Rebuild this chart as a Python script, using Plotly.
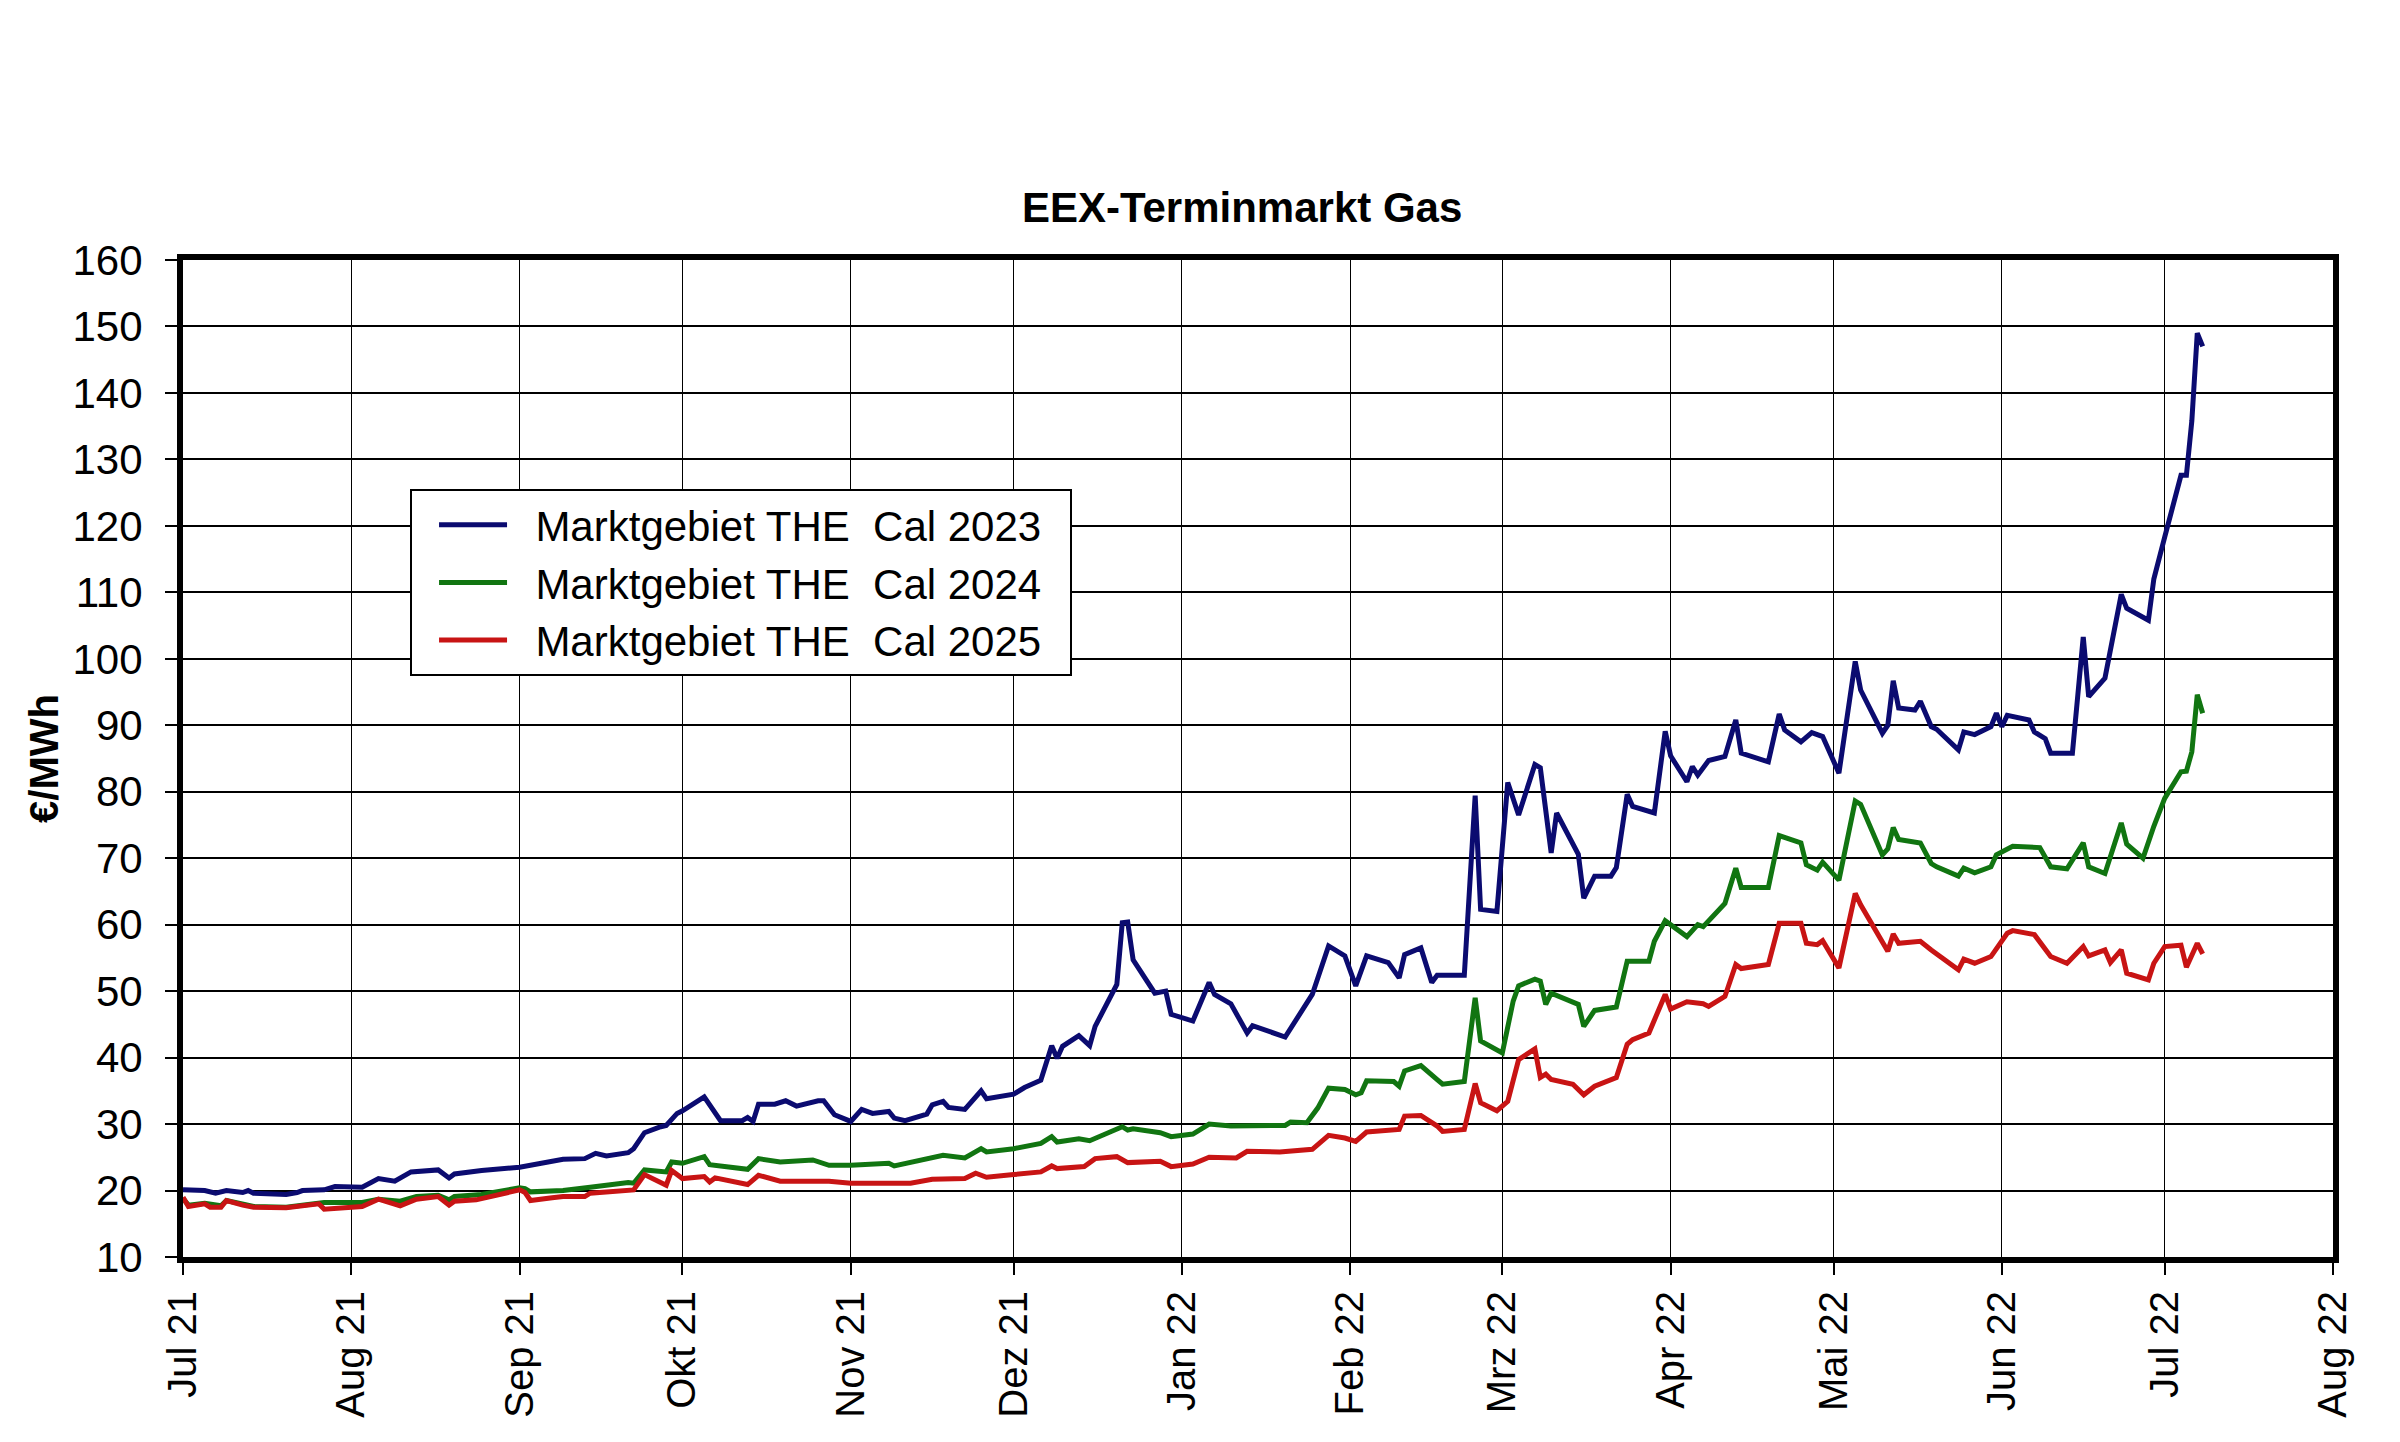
import plotly.graph_objects as go

# Marktgebiet THE Cal 2023 (blau)
dates_2023 = [
    "2021-07-01", "2021-07-05", "2021-07-07", "2021-07-09", "2021-07-12", "2021-07-13", "2021-07-14",
    "2021-07-20", "2021-07-22", "2021-07-23", "2021-07-27", "2021-07-29", "2021-08-03", "2021-08-06",
    "2021-08-09", "2021-08-12", "2021-08-17", "2021-08-19", "2021-08-20", "2021-08-24", "2021-08-25",
    "2021-09-01", "2021-09-06", "2021-09-09", "2021-09-13", "2021-09-15", "2021-09-17", "2021-09-21",
    "2021-09-22", "2021-09-24", "2021-09-27", "2021-09-28", "2021-09-30", "2021-10-01", "2021-10-05",
    "2021-10-08", "2021-10-12", "2021-10-13", "2021-10-14", "2021-10-15", "2021-10-18", "2021-10-20",
    "2021-10-22", "2021-10-26", "2021-10-27", "2021-10-29", "2021-11-01", "2021-11-03", "2021-11-05",
    "2021-11-08", "2021-11-09", "2021-11-11", "2021-11-15", "2021-11-16", "2021-11-18", "2021-11-19",
    "2021-11-22", "2021-11-25", "2021-11-26", "2021-12-01", "2021-12-03", "2021-12-06", "2021-12-08",
    "2021-12-09", "2021-12-10", "2021-12-13", "2021-12-15", "2021-12-16", "2021-12-20", "2021-12-21",
    "2021-12-22", "2021-12-23", "2021-12-27", "2021-12-29", "2021-12-30", "2022-01-03", "2022-01-06",
    "2022-01-07", "2022-01-10", "2022-01-13", "2022-01-14", "2022-01-17", "2022-01-20", "2022-01-25",
    "2022-01-28", "2022-01-31", "2022-02-02", "2022-02-04", "2022-02-08", "2022-02-10", "2022-02-11",
    "2022-02-14", "2022-02-16", "2022-02-17", "2022-02-22", "2022-02-24", "2022-02-25", "2022-02-28",
    "2022-03-02", "2022-03-04", "2022-03-07", "2022-03-08", "2022-03-10", "2022-03-11", "2022-03-15",
    "2022-03-16", "2022-03-18", "2022-03-21", "2022-03-22", "2022-03-24", "2022-03-25", "2022-03-29",
    "2022-03-31", "2022-04-01", "2022-04-04", "2022-04-05", "2022-04-06", "2022-04-08", "2022-04-11",
    "2022-04-13", "2022-04-14", "2022-04-19", "2022-04-21", "2022-04-22", "2022-04-25", "2022-04-27",
    "2022-04-29", "2022-05-02", "2022-05-05", "2022-05-06", "2022-05-10", "2022-05-11", "2022-05-12",
    "2022-05-13", "2022-05-16", "2022-05-17", "2022-05-19", "2022-05-20", "2022-05-24", "2022-05-25",
    "2022-05-27", "2022-05-30", "2022-05-31", "2022-06-01", "2022-06-02", "2022-06-06", "2022-06-07",
    "2022-06-09", "2022-06-10", "2022-06-14", "2022-06-16", "2022-06-17", "2022-06-20", "2022-06-23",
    "2022-06-24", "2022-06-28", "2022-06-29", "2022-07-01", "2022-07-04", "2022-07-05", "2022-07-06",
    "2022-07-07", "2022-07-08",
]
cal_2023 = [
    20.1, 20.0, 19.6, 20.0, 19.7, 20.0, 19.6,
    19.4, 19.7, 20.0, 20.1, 20.6, 20.5, 21.8,
    21.4, 22.8, 23.1, 21.9, 22.5, 23.0, 23.0,
    23.5, 24.3, 24.7, 24.8, 25.6, 25.2, 25.7,
    26.3, 28.7, 29.6, 29.8, 31.6, 32.0, 34.1,
    30.5, 30.5, 31.0, 30.4, 33.0, 33.0, 33.5,
    32.7, 33.5, 33.5, 31.4, 30.4, 32.2, 31.6,
    31.9, 30.9, 30.5, 31.5, 32.9, 33.4, 32.5,
    32.2, 35.0, 33.8, 34.5, 35.5, 36.6, 41.8,
    39.9, 41.7, 43.3, 41.8, 44.7, 51.0, 60.3,
    60.4, 54.7, 49.7, 50.0, 46.5, 45.5, 51.3,
    49.5, 48.1, 43.7, 44.8, 44.0, 43.1, 49.5,
    56.8, 55.3, 50.8, 55.3, 54.3, 52.0, 55.5,
    56.5, 51.3, 52.4, 52.4, 79.4, 62.3, 62.0,
    81.4, 76.5, 84.1, 83.6, 70.8, 76.8, 70.6,
    64.0, 67.3, 67.3, 68.6, 79.6, 77.8, 76.8,
    89.1, 85.4, 81.5, 83.8, 82.5, 84.7, 85.3,
    90.8, 85.8, 84.5, 91.7, 89.3, 87.5, 88.9,
    88.3, 82.8, 99.6, 95.3, 88.8, 90.0, 96.7,
    92.6, 92.3, 93.6, 89.8, 89.4, 86.3, 89.0,
    88.6, 89.8, 91.8, 89.8, 91.5, 90.8, 89.0,
    88.0, 85.8, 85.8, 103.3, 94.3, 97.1, 109.7,
    107.6, 105.8, 112.0, 118.3, 127.6, 127.6, 135.8,
    149.0, 147.0,
]

# Marktgebiet THE Cal 2024 (gruen)
dates_2024 = [
    "2021-07-01", "2021-07-02", "2021-07-05", "2021-07-08", "2021-07-09", "2021-07-14", "2021-07-20",
    "2021-07-26", "2021-07-27", "2021-08-03", "2021-08-06", "2021-08-10", "2021-08-13", "2021-08-17",
    "2021-08-19", "2021-08-20", "2021-08-25", "2021-09-01", "2021-09-02", "2021-09-03", "2021-09-09",
    "2021-09-14", "2021-09-21", "2021-09-22", "2021-09-24", "2021-09-28", "2021-09-29", "2021-10-01",
    "2021-10-05", "2021-10-06", "2021-10-13", "2021-10-15", "2021-10-19", "2021-10-25", "2021-10-28",
    "2021-11-01", "2021-11-08", "2021-11-09", "2021-11-15", "2021-11-18", "2021-11-22", "2021-11-25",
    "2021-11-26", "2021-12-01", "2021-12-06", "2021-12-08", "2021-12-09", "2021-12-13", "2021-12-15",
    "2021-12-20", "2021-12-21", "2021-12-22", "2021-12-23", "2021-12-28", "2021-12-30", "2022-01-03",
    "2022-01-06", "2022-01-10", "2022-01-20", "2022-01-21", "2022-01-24", "2022-01-26", "2022-01-28",
    "2022-01-31", "2022-02-02", "2022-02-03", "2022-02-04", "2022-02-09", "2022-02-10", "2022-02-11",
    "2022-02-14", "2022-02-17", "2022-02-18", "2022-02-22", "2022-02-24", "2022-02-25", "2022-03-01",
    "2022-03-03", "2022-03-04", "2022-03-07", "2022-03-08", "2022-03-09", "2022-03-10", "2022-03-15",
    "2022-03-16", "2022-03-18", "2022-03-22", "2022-03-24", "2022-03-28", "2022-03-29", "2022-03-31",
    "2022-04-04", "2022-04-06", "2022-04-07", "2022-04-11", "2022-04-13", "2022-04-14", "2022-04-19",
    "2022-04-21", "2022-04-25", "2022-04-26", "2022-04-28", "2022-04-29", "2022-05-02", "2022-05-05",
    "2022-05-06", "2022-05-10", "2022-05-11", "2022-05-12", "2022-05-13", "2022-05-17", "2022-05-19",
    "2022-05-20", "2022-05-24", "2022-05-25", "2022-05-27", "2022-05-30", "2022-05-31", "2022-06-03",
    "2022-06-08", "2022-06-10", "2022-06-13", "2022-06-16", "2022-06-17", "2022-06-20", "2022-06-23",
    "2022-06-24", "2022-06-27", "2022-06-29", "2022-07-01", "2022-07-04", "2022-07-05", "2022-07-06",
    "2022-07-07", "2022-07-08",
]
cal_2024 = [
    18.8, 17.8, 18.1, 17.7, 18.5, 17.6, 17.5,
    18.1, 18.2, 18.2, 18.7, 18.4, 19.1, 19.3,
    18.6, 19.1, 19.4, 20.4, 20.3, 19.8, 20.0,
    20.5, 21.2, 21.1, 23.1, 22.8, 24.3, 24.1,
    25.1, 23.9, 23.2, 24.8, 24.3, 24.6, 23.8,
    23.8, 24.1, 23.7, 24.7, 25.3, 24.9, 26.3,
    25.8, 26.3, 27.1, 28.1, 27.3, 27.8, 27.5,
    29.4, 29.6, 29.1, 29.3, 28.7, 28.1, 28.5,
    30.0, 29.7, 29.8, 30.3, 30.2, 32.4, 35.4,
    35.2, 34.4, 34.7, 36.5, 36.4, 35.7, 38.0,
    38.8, 36.7, 36.0, 36.4, 49.0, 42.5, 40.7,
    48.5, 50.8, 51.8, 51.5, 48.0, 49.7, 48.0,
    44.7, 47.1, 47.6, 54.5, 54.5, 57.5, 60.6,
    58.2, 60.0, 59.7, 63.2, 68.5, 65.6, 65.6,
    73.4, 72.3, 69.0, 68.2, 69.4, 66.7, 78.6,
    78.1, 70.5, 71.4, 74.6, 72.8, 72.3, 69.2,
    68.7, 67.3, 68.5, 67.8, 68.7, 70.5, 71.8,
    71.6, 68.7, 68.4, 72.3, 68.7, 67.7, 75.3,
    72.1, 70.0, 74.8, 79.0, 83.0, 83.1, 86.0,
    94.6, 91.8,
]

# Marktgebiet THE Cal 2025 (rot)
dates_2025 = [
    "2021-07-01", "2021-07-02", "2021-07-05", "2021-07-06", "2021-07-08", "2021-07-09", "2021-07-12",
    "2021-07-14", "2021-07-20", "2021-07-26", "2021-07-27", "2021-08-02", "2021-08-03", "2021-08-06",
    "2021-08-10", "2021-08-13", "2021-08-17", "2021-08-19", "2021-08-20", "2021-08-24", "2021-09-01",
    "2021-09-02", "2021-09-03", "2021-09-07", "2021-09-09", "2021-09-13", "2021-09-14", "2021-09-22",
    "2021-09-24", "2021-09-28", "2021-09-29", "2021-10-01", "2021-10-05", "2021-10-06", "2021-10-07",
    "2021-10-13", "2021-10-15", "2021-10-19", "2021-10-28", "2021-11-01", "2021-11-04", "2021-11-12",
    "2021-11-16", "2021-11-22", "2021-11-24", "2021-11-26", "2021-12-01", "2021-12-06", "2021-12-08",
    "2021-12-09", "2021-12-14", "2021-12-16", "2021-12-20", "2021-12-22", "2021-12-28", "2021-12-30",
    "2022-01-03", "2022-01-06", "2022-01-11", "2022-01-13", "2022-01-19", "2022-01-25", "2022-01-28",
    "2022-01-31", "2022-02-02", "2022-02-04", "2022-02-10", "2022-02-11", "2022-02-14", "2022-02-17",
    "2022-02-18", "2022-02-22", "2022-02-24", "2022-02-25", "2022-02-28", "2022-03-02", "2022-03-04",
    "2022-03-07", "2022-03-08", "2022-03-09", "2022-03-10", "2022-03-14", "2022-03-16", "2022-03-18",
    "2022-03-22", "2022-03-24", "2022-03-25", "2022-03-28", "2022-03-31", "2022-04-01", "2022-04-04",
    "2022-04-07", "2022-04-08", "2022-04-11", "2022-04-13", "2022-04-14", "2022-04-19", "2022-04-21",
    "2022-04-25", "2022-04-26", "2022-04-28", "2022-04-29", "2022-05-02", "2022-05-05", "2022-05-06",
    "2022-05-11", "2022-05-12", "2022-05-13", "2022-05-17", "2022-05-19", "2022-05-24", "2022-05-25",
    "2022-05-27", "2022-05-30", "2022-06-02", "2022-06-03", "2022-06-07", "2022-06-10", "2022-06-13",
    "2022-06-16", "2022-06-17", "2022-06-20", "2022-06-21", "2022-06-23", "2022-06-24", "2022-06-28",
    "2022-06-29", "2022-07-01", "2022-07-04", "2022-07-05", "2022-07-07", "2022-07-08",
]
cal_2025 = [
    19.0, 17.6, 18.0, 17.5, 17.5, 18.5, 17.8,
    17.5, 17.4, 18.0, 17.2, 17.6, 17.6, 18.7,
    17.7, 18.7, 19.1, 17.8, 18.4, 18.6, 20.1,
    19.7, 18.5, 18.9, 19.1, 19.1, 19.6, 20.1,
    22.4, 20.8, 23.0, 21.8, 22.1, 21.3, 21.9,
    20.9, 22.3, 21.4, 21.4, 21.1, 21.1, 21.1,
    21.7, 21.8, 22.6, 22.0, 22.4, 22.8, 23.7,
    23.3, 23.6, 24.8, 25.1, 24.2, 24.4, 23.6,
    24.0, 25.0, 24.9, 25.9, 25.8, 26.2, 28.3,
    27.9, 27.4, 28.8, 29.2, 31.2, 31.3, 29.7,
    28.9, 29.2, 36.1, 33.2, 32.0, 33.4, 39.7,
    41.3, 37.0, 37.5, 36.7, 36.0, 34.4, 35.7,
    37.0, 42.0, 42.7, 43.7, 49.5, 47.3, 48.4,
    48.1, 47.7, 49.2, 54.0, 53.4, 54.0, 60.2,
    60.2, 57.2, 57.0, 57.6, 53.5, 64.7, 63.0,
    56.0, 58.6, 57.2, 57.5, 56.2, 53.2, 54.8,
    54.2, 55.2, 58.7, 59.1, 58.5, 55.2, 54.2,
    56.7, 55.3, 56.2, 54.3, 56.2, 52.7, 51.7,
    54.2, 56.7, 56.9, 53.6, 57.2, 55.6,
]

month_ticks = [
    "2021-07-01", "2021-08-01", "2021-09-01", "2021-10-01", "2021-11-01", "2021-12-01", "2022-01-01",
    "2022-02-01", "2022-03-01", "2022-04-01", "2022-05-01", "2022-06-01", "2022-07-01", "2022-08-01",
]
month_labels = [
    "Jul 21", "Aug 21", "Sep 21", "Okt 21", "Nov 21", "Dez 21", "Jan 22",
    "Feb 22", "Mrz 22", "Apr 22", "Mai 22", "Jun 22", "Jul 22", "Aug 22",
]

NB = "\u00a0"
series = [
    ("Marktgebiet THE" + NB * 2 + "Cal 2023", dates_2023, cal_2023, "#0b0b70"),
    ("Marktgebiet THE" + NB * 2 + "Cal 2024", dates_2024, cal_2024, "#117511"),
    ("Marktgebiet THE" + NB * 2 + "Cal 2025", dates_2025, cal_2025, "#c81414"),
]

FONT = "Liberation Sans, Arial, sans-serif"

fig = go.Figure()
for i, (name, xs, ys, color) in enumerate(series):
    fig.add_trace(go.Scatter(x=xs, y=ys, name=NB * 2 + name + NB * 2, mode="lines",
                             legendgroup=f"g{i}",
                             line=dict(color=color, width=5)))

fig.update_layout(
    width=2400, height=1442,
    paper_bgcolor="white", plot_bgcolor="white",
    margin=dict(l=175, r=75, t=252, b=193),
    font=dict(family=FONT, color="black", size=40),
    title=dict(text="<b>EEX-Terminmarkt Gas</b>", font=dict(size=42, color="black"),
               x=0.4926, xref="paper", xanchor="center",
               y=1 - 199 / 1442, yref="container", yanchor="middle"),
    legend=dict(x=0.1056, y=0.7703, xanchor="left", yanchor="top",
                bgcolor="white", bordercolor="black", borderwidth=2,
                font=dict(size=42, color="black"), itemwidth=68,
                indentation=22, tracegroupgap=0),
    showlegend=True,
)

fig.update_xaxes(
    type="date", range=["2021-07-01", "2022-08-01"],
    tickvals=month_ticks, ticktext=month_labels, tickangle=-90,
    tickfont=dict(size=40, color="black"),
    showgrid=True, gridcolor="black", gridwidth=1.4,
    showline=True, linecolor="black", linewidth=6, mirror=True,
    ticks="outside", ticklen=12, tickcolor="black", tickwidth=2,
    zeroline=False,
)
fig.update_yaxes(
    range=[10, 160], dtick=10, tick0=10,
    tickfont=dict(size=42, color="black"), ticklabelstandoff=14,
    title=dict(text="<b>€/MWh</b>", font=dict(size=40, color="black"), standoff=4),
    showgrid=True, gridcolor="black", gridwidth=2,
    showline=True, linecolor="black", linewidth=6, mirror=True,
    ticks="outside", ticklen=12, tickcolor="black", tickwidth=2,
    zeroline=False,
)

fig.write_html("out.html")
